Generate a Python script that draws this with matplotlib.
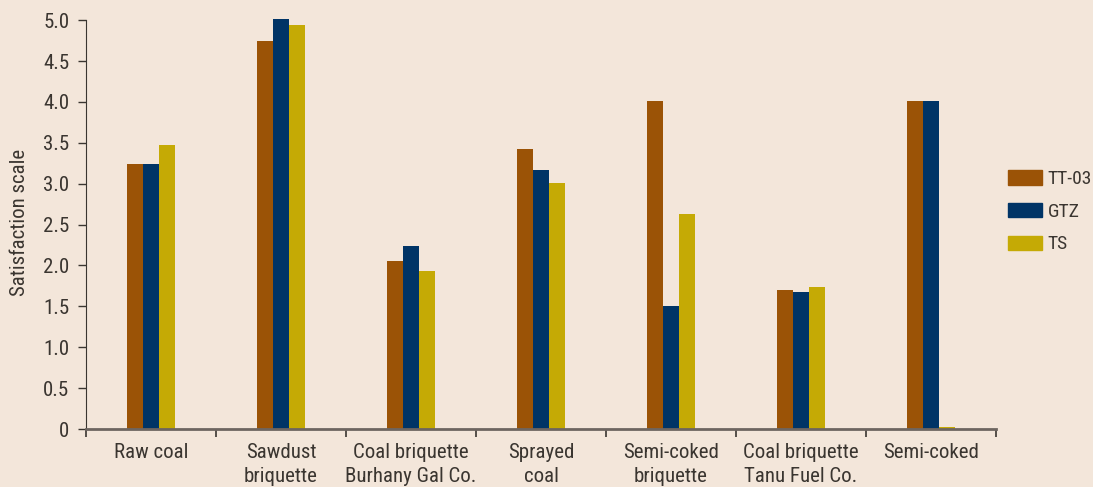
import numpy as np
import matplotlib.pyplot as plt
from matplotlib.patches import Patch

categories = ["Raw coal", "Sawdust\nbriquette", "Coal briquette\nBurhany Gal Co.",
              "Sprayed\ncoal", "Semi-coked\nbriquette", "Coal briquette\nTanu Fuel Co.",
              "Semi-coked"]
tt03 = [3.24, 4.74, 2.05, 3.42, 4.01, 1.70, 4.01]
gtz = [3.24, 5.02, 2.24, 3.17, 1.50, 1.67, 4.01]
ts = [3.47, 4.94, 1.93, 3.01, 2.63, 1.74, 0.03]

series = [("TT-03", tt03, "#9b5306"), ("GTZ", gtz, "#003466"), ("TS", ts, "#c5aa05")]

bg = "#f3e6da"
txtc = "#3a3530"
plt.rcParams['font.family'] = ['Roboto Condensed', 'Barlow Condensed', 'DejaVu Sans']

fig = plt.figure(figsize=(10.93, 4.87), dpi=100, facecolor=bg)
ax = fig.add_axes([0.0787, 0.119, 0.8325, 0.848])
ax.set_facecolor(bg)

x = np.arange(len(categories))
w = 0.123
for i, (name, vals, col) in enumerate(series):
    ax.bar(x + (i - 1) * w, vals, width=w, color=col, label=name)

ax.set_xlim(-0.5, len(categories) - 0.5)
ax.set_ylim(0, 5.05)
ax.set_yticks(np.arange(0, 5.01, 0.5))
ax.set_yticklabels(["0"] + [f"{v:.1f}" for v in np.arange(0.5, 5.01, 0.5)])
ax.set_xticks(x)
ax.set_xticklabels(categories, linespacing=1.35)
ax.set_xticks(np.arange(-0.5, len(categories) - 0.4, 1), minor=True)
ax.tick_params(axis='x', which='major', length=0, pad=10, labelsize=15, labelcolor=txtc)
ax.tick_params(axis='x', which='minor', length=6, width=1.2, color=txtc, direction='out')
ax.tick_params(axis='y', length=6, width=1, color=txtc, labelsize=15, labelcolor=txtc, pad=6)

for s in ['top', 'right']:
    ax.spines[s].set_visible(False)
ax.spines['left'].set_bounds(0, 5.0)
ax.spines['left'].set_color(txtc)
ax.spines['bottom'].set_color('#6d6560')
ax.spines['bottom'].set_linewidth(2)

ax.set_ylabel("Satisfaction scale", fontsize=15, color=txtc, labelpad=10)

handles = [Patch(color=c, label=n) for n, _, c in series]
fig.legend(handles=handles, loc='center left', bbox_to_anchor=(0.915, 0.565),
           frameon=False, fontsize=14, handlelength=1.75, handleheight=0.75,
           labelspacing=0.75, handletextpad=0.3, borderaxespad=0, labelcolor=txtc)

fig.savefig("out.png", dpi=100, facecolor=bg)
